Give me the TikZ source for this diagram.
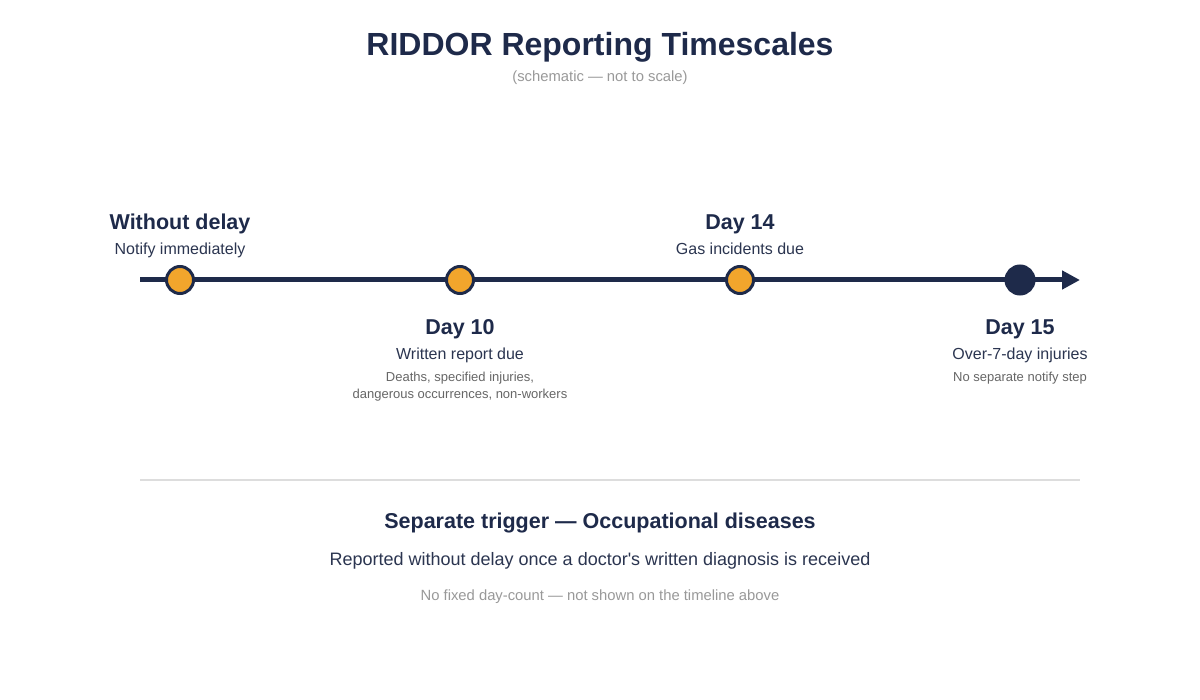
\documentclass[tikz,border=0pt]{standalone}
\usepackage{fontspec}
\setmainfont{Liberation Sans}
\usetikzlibrary{positioning,arrows.meta}
\definecolor{navy}{HTML}{1E2A4A}
\definecolor{amber}{HTML}{F2A52C}
\definecolor{bodytext}{HTML}{2B3550}
\definecolor{notegray}{HTML}{666666}
\definecolor{softgray}{HTML}{999999}
\definecolor{rulegray}{HTML}{DDDDDD}
\tikzset{>={Triangle[length=18pt,width=18pt]}}

\begin{document}
\begin{tikzpicture}[x=1pt,y=-1pt,
marker/.style={circle, draw=navy, line width=3pt, fill=amber, minimum size=27pt, inner sep=0pt},
endmarker/.style={marker, fill=navy, minimum size=28pt},
headline/.style={anchor=base, inner sep=0pt, text=navy, font=\bfseries\fontsize{21.5}{25}\selectfont},
subline/.style={anchor=base, inner sep=0pt, text=bodytext, font=\fontsize{16}{19}\selectfont},
noteline/.style={anchor=base, inner sep=0pt, text=notegray, font=\fontsize{13}{16}\selectfont}
]
\useasboundingbox[fill=white] (0,0) rectangle (1200,700);

\node (title) [anchor=base, inner sep=0pt, text=navy, font=\bfseries\fontsize{32}{38}\selectfont] at (600,56) {RIDDOR Reporting Timescales};
\node (subtitle) [anchor=base, inner sep=0pt, text=softgray, font=\fontsize{14.8}{18}\selectfont] at (600,82) {(schematic --- not to scale)};

\coordinate (tlstart) at (140,280);
\coordinate (tlend) at (1080,280);
\draw [->, navy, line width=5pt] (tlstart) -- (tlend);

\node (m0) [marker] at (180,280) {};
\node (m10) [marker] at (460,280) {};
\node (m14) [marker] at (740,280) {};
\node (m15) [endmarker] at (1020,280) {};

\node (h0) [headline] at (180,230) {Without delay};
\node (s0) [subline] at (180,255) {Notify immediately};

\node (h10) [headline] at (460,335) {Day 10};
\node (s10) [subline] at (460,360) {Written report due};
\node (n10a) [noteline] at (460,382) {Deaths, specified injuries,};
\node (n10b) [noteline] at (460,399) {dangerous occurrences, non-workers};

\node (h14) [headline] at (740,230) {Day 14};
\node (s14) [subline] at (740,255) {Gas incidents due};

\node (h15) [headline] at (1020,335) {Day 15};
\node (s15) [subline] at (1020,360) {Over-7-day injuries};
\node (n15) [noteline] at (1020,382) {No separate notify step};

\coordinate (rulel) at (140,480);
\coordinate (ruler) at (1080,480);
\draw [rulegray, line width=2pt] (rulel) -- (ruler);

\node (dtitle) [headline] at (600,529) {Separate trigger --- Occupational diseases};
\node (dtext) [anchor=base, inner sep=0pt, text=bodytext, font=\fontsize{18}{22}\selectfont] at (600,565) {Reported without delay once a doctor\textquotesingle s written diagnosis is received};
\node (dnote) [anchor=base, inner sep=0pt, text=softgray, font=\fontsize{14.8}{18}\selectfont] at (600,600) {No fixed day-count --- not shown on the timeline above};
\end{tikzpicture}
\end{document}
